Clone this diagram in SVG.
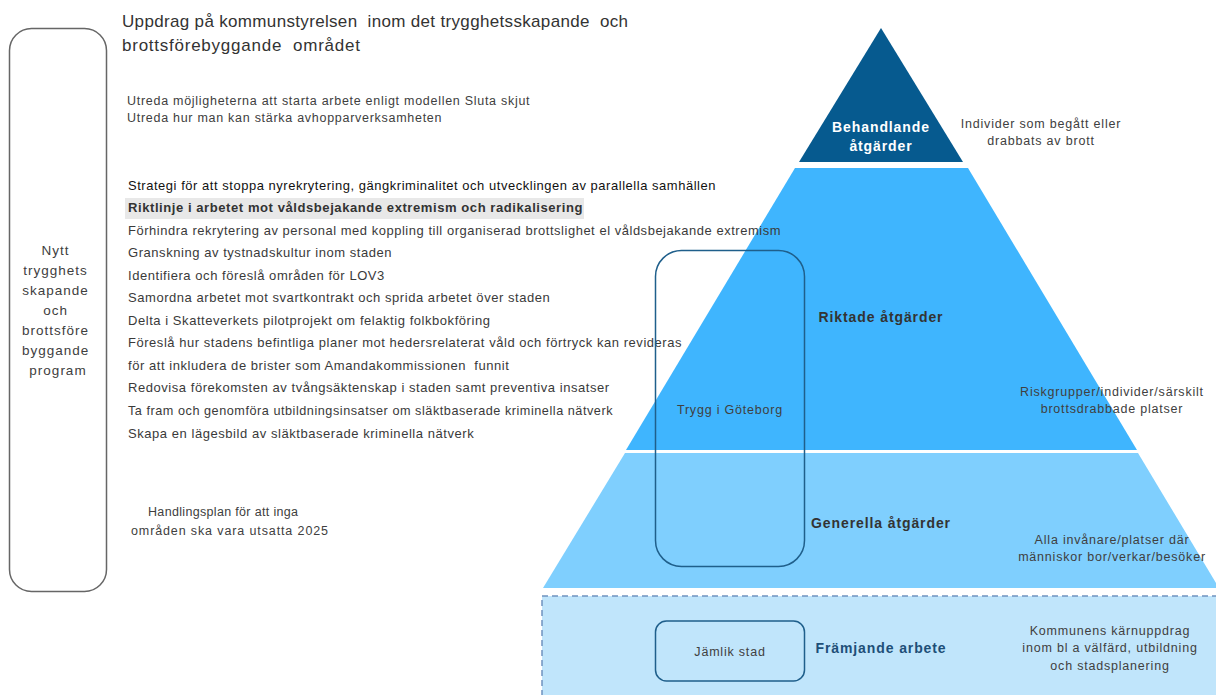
<svg xmlns="http://www.w3.org/2000/svg" width="1216" height="695" viewBox="0 0 1216 695">
<style>
  text { font-family: "Liberation Sans", Arial, sans-serif; }
  .t { font-size: 13px; fill: #3a3a3a; letter-spacing: 0.55px; }
  .s { font-size: 12.5px; fill: #404040; letter-spacing: 0.72px; }
  .c { font-size: 12.5px; fill: #404040; text-anchor: middle; letter-spacing: 0.8px; }
  .b { font-size: 14px; font-weight: bold; fill: #333; text-anchor: middle; letter-spacing: 0.9px; }
  .box { fill: none; stroke: #1f5f8b; stroke-width: 1.5; }
</style>
<rect width="1216" height="695" fill="#ffffff"/>

<g id="promo-band">
  <rect x="542" y="596" width="680" height="105" fill="#c0e5fb" stroke="#6f93c0" stroke-width="1.5" stroke-dasharray="6,4"/>
</g>
<g id="pyramid">
  <polygon points="881,28 963,162 799,162" fill="#065a8f"/>
  <polygon points="795,168 968,168 1137,450 626,450" fill="#3fb5fe"/>
  <polygon points="625,453 1138,453 1219,588 543,588" fill="#7fcffe"/>
</g>

<g id="program">
  <rect x="9.5" y="28.5" width="97" height="563" rx="22" fill="none" stroke="#666" stroke-width="1.5"/>
  <text class="c" style="font-size:13.5px;letter-spacing:1px">
    <tspan x="58" y="255">Nytt</tspan>
    <tspan x="58" y="275">trygghets</tspan>
    <tspan x="58" y="295">skapande</tspan>
    <tspan x="58" y="315">och</tspan>
    <tspan x="58" y="335">brottsföre</tspan>
    <tspan x="58" y="355">byggande</tspan>
    <tspan x="58" y="375">program</tspan>
  </text>
</g>

<g id="title">
  <text x="122" y="27" textLength="506" lengthAdjust="spacing" style="font-size:17px;fill:#333;white-space:pre">Uppdrag på kommunstyrelsen  inom det trygghetsskapande  och</text>
  <text x="122" y="51" textLength="238" lengthAdjust="spacing" style="font-size:17px;fill:#333;white-space:pre">brottsförebyggande  området</text>
</g>

<g id="uppdrag-top">
  <text class="s" x="127" y="105">Utreda möjligheterna att starta arbete enligt modellen Sluta skjut</text>
  <text class="s" x="127" y="122">Utreda hur man kan stärka avhopparverksamheten</text>
</g>

<g id="uppdrag-list">
  <rect x="125" y="198" width="459" height="21" fill="#e8e8e8"/>
  <text class="t" x="128" y="190" textLength="588" lengthAdjust="spacingAndGlyphs" style="fill:#111">Strategi för att stoppa nyrekrytering, gängkriminalitet och utvecklingen av parallella samhällen</text>
  <text class="t" x="128" y="212" textLength="455" lengthAdjust="spacingAndGlyphs" style="font-weight:bold;fill:#333">Riktlinje i arbetet mot våldsbejakande extremism och radikalisering</text>
  <text class="t" x="128" y="235" textLength="653" lengthAdjust="spacingAndGlyphs">Förhindra rekrytering av personal med koppling till organiserad brottslighet el våldsbejakande extremism</text>
  <text class="t" x="128" y="257">Granskning av tystnadskultur inom staden</text>
  <text class="t" x="128" y="280">Identifiera och föreslå områden för LOV3</text>
  <text class="t" x="128" y="302">Samordna arbetet mot svartkontrakt och sprida arbetet över staden</text>
  <text class="t" x="128" y="325">Delta i Skatteverkets pilotprojekt om felaktig folkbokföring</text>
  <text class="t" x="128" y="347" textLength="554" lengthAdjust="spacingAndGlyphs">Föreslå hur stadens befintliga planer mot hedersrelaterat våld och förtryck kan revideras</text>
  <text class="t" x="128" y="370" style="white-space:pre">för att inkludera de brister som Amandakommissionen  funnit</text>
  <text class="t" x="128" y="392">Redovisa förekomsten av tvångsäktenskap i staden samt preventiva insatser</text>
  <text class="t" x="128" y="415" textLength="485" lengthAdjust="spacingAndGlyphs">Ta fram och genomföra utbildningsinsatser om släktbaserade kriminella nätverk</text>
  <text class="t" x="128" y="438">Skapa en lägesbild av släktbaserade kriminella nätverk</text>
</g>

<g id="handlingsplan">
  <text class="s" x="148" y="516" textLength="150" lengthAdjust="spacing" style="letter-spacing:0">Handlingsplan för att inga</text>
  <text class="s" x="131" y="535" textLength="197" lengthAdjust="spacing" style="letter-spacing:0">områden ska vara utsatta 2025</text>
</g>

<g id="trygg">
  <rect class="box" x="655.5" y="250.5" width="149" height="316" rx="26"/>
  <text class="c" x="730" y="414">Trygg i Göteborg</text>
</g>

<g id="jamlik">
  <rect class="box" x="655.5" y="621" width="149" height="60" rx="11"/>
  <text class="c" x="730" y="656">Jämlik stad</text>
</g>

<g id="labels">
  <text class="b" x="881" y="132" style="fill:#fff">Behandlande</text>
  <text class="b" x="881" y="151" style="fill:#fff">åtgärder</text>
  <text class="b" x="881" y="322">Riktade åtgärder</text>
  <text class="b" x="881" y="528">Generella åtgärder</text>
  <text class="b" x="881" y="653" style="fill:#1e4f78">Främjande arbete</text>
</g>

<g id="descriptions">
  <text class="c" x="1041" y="128">Individer som begått eller</text>
  <text class="c" x="1041" y="145">drabbats av brott</text>
  <text class="c" x="1112" y="396">Riskgrupper/individer/särskilt</text>
  <text class="c" x="1112" y="413">brottsdrabbade platser</text>
  <text class="c" x="1112" y="544">Alla invånare/platser där</text>
  <text class="c" x="1112" y="561">människor bor/verkar/besöker</text>
  <text class="c" x="1110" y="635">Kommunens kärnuppdrag</text>
  <text class="c" x="1110" y="652">inom bl a välfärd, utbildning</text>
  <text class="c" x="1110" y="670">och stadsplanering</text>
</g>
</svg>
